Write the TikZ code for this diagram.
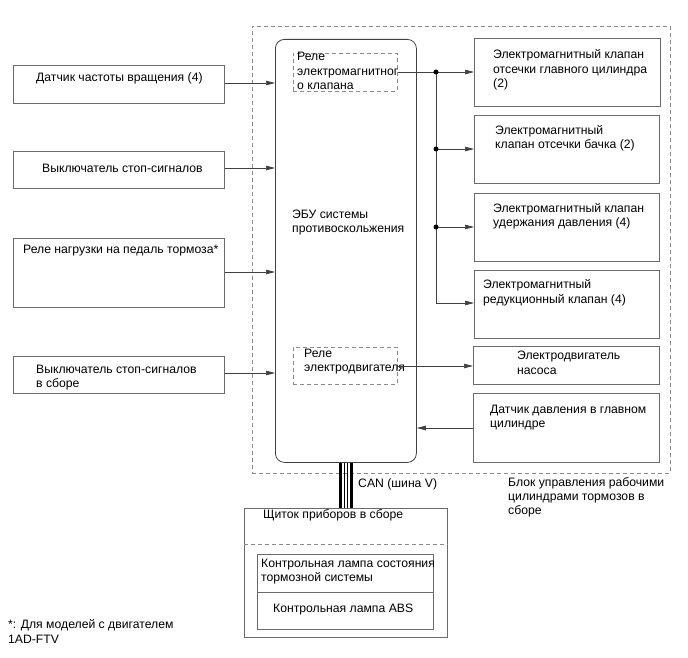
\documentclass[tikz,border=0pt]{standalone}
\usepackage{fontspec}
\setmainfont{Liberation Sans}
\usetikzlibrary{arrows.meta}
\definecolor{boxc}{HTML}{6A6A6A}
\definecolor{linec}{HTML}{404040}
\definecolor{dashc}{HTML}{8A8A8A}
\begin{document}
\begin{tikzpicture}[x=1pt,y=-1pt,
  box/.style={draw=boxc,line width=0.8pt,rectangle,inner sep=0pt,anchor=north west},
  dbox/.style={draw=dashc,line width=0.8pt,dash pattern=on 4pt off 3pt,rectangle,inner sep=0pt,anchor=north west},
  lbl/.style={font=\fontsize{12.2}{14}\selectfont,inner sep=0pt,anchor=base west,text=black},
  conn/.style={draw=linec,line width=0.7pt},
  arr/.style={conn,-{Triangle[length=9pt,width=4.5pt]}},
  dot/.style={circle,fill=black,inner sep=0pt,minimum size=5pt}]
\useasboundingbox (0,0) rectangle (688,658);
% outer dashed block
\node[dbox,minimum width=418pt,minimum height=447pt] (blk) at (252,26) {};
% ECU
\node[box,draw=linec,rounded corners=9pt,minimum width=141pt,minimum height=423pt] (ecu) at (275,39) {};
\node[dbox,minimum width=104pt,minimum height=38pt] (rel1) at (293,53) {};
\node[dbox,minimum width=104pt,minimum height=37pt] (rel2) at (293,347) {};
% left boxes
\node[box,minimum width=211pt,minimum height=38pt] (l1) at (13,65) {};
\node[box,minimum width=211pt,minimum height=37pt] (l2) at (13,151) {};
\node[box,minimum width=211pt,minimum height=69pt] (l3) at (13,238) {};
\node[box,minimum width=211pt,minimum height=37pt] (l4) at (13,356) {};
% right boxes
\node[box,minimum width=186pt,minimum height=68pt] (r1) at (474,38) {};
\node[box,minimum width=185pt,minimum height=68pt] (r2) at (474,115) {};
\node[box,minimum width=185pt,minimum height=68pt] (r3) at (474,193) {};
\node[box,minimum width=185pt,minimum height=68pt] (r4) at (474,270) {};
\node[box,minimum width=186pt,minimum height=38pt] (r5) at (473,346) {};
\node[box,minimum width=186pt,minimum height=69pt] (r6) at (473,393) {};
% cluster
\node[box,minimum width=203pt,minimum height=129pt] (cl) at (244,508) {};
\node[box,minimum width=176pt,minimum height=38pt] (lampa) at (257,554) {};
\node[box,minimum width=176pt,minimum height=37pt] (lampb) at (257,592) {};
\draw[draw=dashc,line width=0.8pt,dash pattern=on 4pt off 3pt] (cl.west |- 0,544) coordinate (dl) -- (cl.east |- 0,544) coordinate (dr);

% texts
\node[lbl] (t1) at (36,82) {Датчик частоты вращения (4)};
\node[lbl] (t2) at (42,172) {Выключатель стоп-сигналов};
\node[lbl] (t3) at (23,253) {Реле нагрузки на педаль тормоза*};
\node[lbl] (t4a) at (36,373) {Выключатель стоп-сигналов};
\node[lbl] (t4b) at (36,387) {в сборе};
\node[lbl] (e1) at (292,218) {ЭБУ системы};
\node[lbl] (e2) at (292,232) {противоскольжения};
\node[lbl] (p1) at (297,61) {Реле};
\node[lbl] (p2) at (297,76) {электромагнитног};
\node[lbl] (p3) at (297,90) {о клапана};
\node[lbl] (q1) at (304,357) {Реле};
\node[lbl] (q2) at (304,371) {электродвигателя};
\node[lbl] (s1a) at (493,59) {Электромагнитный клапан};
\node[lbl] (s1b) at (493,74) {отсечки главного цилиндра};
\node[lbl] (s1c) at (493,88) {(2)};
\node[lbl] (s2a) at (495,135) {Электромагнитный};
\node[lbl] (s2b) at (495,149) {клапан отсечки бачка (2)};
\node[lbl] (s3a) at (493,212) {Электромагнитный клапан};
\node[lbl] (s3b) at (493,226) {удержания давления (4)};
\node[lbl] (s4a) at (483,288) {Электромагнитный};
\node[lbl] (s4b) at (483,303) {редукционный клапан (4)};
\node[lbl] (s5a) at (517,359) {Электродвигатель};
\node[lbl] (s5b) at (517,374) {насоса};
\node[lbl] (s6a) at (490,413) {Датчик давления в главном};
\node[lbl] (s6b) at (490,427) {цилиндре};
\node[lbl] (b1) at (508,486) {Блок управления рабочими};
\node[lbl] (b2) at (508,500) {цилиндрами тормозов в};
\node[lbl] (b3) at (508,514) {сборе};
\node[lbl] (can) at (358,487) {CAN (шина V)};
\node[lbl] (c1) at (263,518) {Щиток приборов в сборе};
\node[lbl] (c2a) at (261,567) {Контрольная лампа состояния};
\node[lbl] (c2b) at (261,581) {тормозной системы};
\node[lbl] (c3) at (273,612) {Контрольная лампа ABS};
\node[lbl] (f1) at (8,628) {*: Для моделей с двигателем};
\node[lbl] (f2) at (8,643) {1AD-FTV};

% inputs to ECU
\draw[arr] (l1.east |- 0,83) -- (ecu.west |- 0,83);
\draw[arr] (l2.east |- 0,168) -- (ecu.west |- 0,168);
\draw[arr] (l3.east |- 0,272) -- (ecu.west |- 0,272);
\draw[arr] (l4.east |- 0,373) -- (ecu.west |- 0,373);
\draw[arr] (r6.west |- 0,428) -- (ecu.east |- 0,428);
% valve bus
\coordinate (j1) at (436,72);
\coordinate (j2) at (436,149);
\coordinate (j3) at (436,227);
\coordinate (j4) at (436,303);
\draw[conn] (rel1.east |- j1) -- (j1) -- (j4);
\draw[arr] (j1) -- (r1.west |- j1);
\draw[arr] (j2) -- (r2.west |- j2);
\draw[arr] (j3) -- (r3.west |- j3);
\draw[arr] (j4) -- (r4.west |- j4);
\node[dot] (d1) at (j1) {};
\node[dot] (d2) at (j2) {};
\node[dot] (d3) at (j3) {};
% motor relay
\draw[arr] (rel2.east |- 0,366) -- (r5.west |- 0,366);
% CAN
\draw[black,line width=3pt] ([xshift=-5.5pt]ecu.south) -- ([xshift=-5.5pt]ecu.south |- cl.north);
\draw[black,line width=3pt] ([xshift=5.5pt]ecu.south) -- ([xshift=5.5pt]ecu.south |- cl.north);
\draw[black,line width=0.8pt] ([xshift=-1.6pt]ecu.south) -- ([xshift=-1.6pt]ecu.south |- cl.north);
\draw[black,line width=0.8pt] ([xshift=1.6pt]ecu.south) -- ([xshift=1.6pt]ecu.south |- cl.north);
\end{tikzpicture}
\end{document}
